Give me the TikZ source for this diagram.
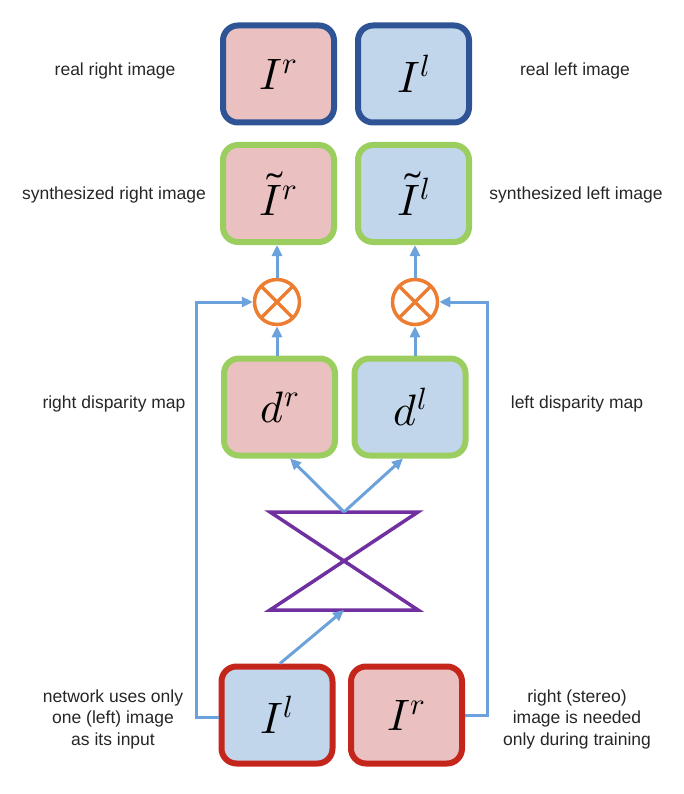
\documentclass[tikz,border=0pt]{standalone}
\usepackage{fontspec}
\usepackage{unicode-math}
\setmainfont{Liberation Sans}
\setmathfont{Latin Modern Math}
\usetikzlibrary{arrows.meta}
\definecolor{pinkfill}{RGB}{234,192,193}
\definecolor{bluefill}{RGB}{194,214,235}
\definecolor{darkblue}{RGB}{47,84,150}
\definecolor{greenb}{RGB}{155,206,94}
\definecolor{redb}{RGB}{196,38,28}
\definecolor{orangec}{RGB}{237,125,49}
\definecolor{lineblue}{RGB}{108,162,220}
\definecolor{purplel}{RGB}{112,48,160}
\tikzset{
  imgbox/.style={rounded corners=15pt, line width=6pt, minimum width=111pt, minimum height=97pt, inner sep=0pt, font=\fontsize{44}{46}\selectfont},
  realbox/.style={imgbox, draw=darkblue},
  synbox/.style={imgbox, draw=greenb},
  inbox/.style={imgbox, draw=redb},
  rfill/.style={fill=pinkfill},
  lfill/.style={fill=bluefill},
  mult/.style={circle, draw=orangec, line width=3.5pt, minimum size=45pt, inner sep=0pt, fill=white,
    path picture={\draw[orangec, line width=3.5pt] (path picture bounding box.north west) -- (path picture bounding box.south east)
      (path picture bounding box.north east) -- (path picture bounding box.south west);}},
  conn/.style={draw=lineblue, line width=3pt},
  arr/.style={conn, -{Triangle[length=11pt,width=10pt]}},
  lbl/.style={font=\fontsize{17.5}{21.5}\selectfont, align=center, text=black!85},
}
\begin{document}
\begin{tikzpicture}[x=1pt,y=-1pt]
\useasboundingbox (0,0) rectangle (684,794);
% top row
\node[realbox, rfill] (Ir) at (278.5,74) {$I^r$};
\node[realbox, lfill] (Il) at (413.5,74) {$I^l$};
% synthesized
\node[synbox, rfill] (sIr) at (278.5,193.5) {$\tilde{I}^r$};
\node[synbox, lfill] (sIl) at (413.5,193.5) {$\tilde{I}^l$};
% disparity
\node[synbox, rfill] (dr) at (279.5,407) {$d^r$};
\node[synbox, lfill] (dl) at (410,407) {$d^l$};
% inputs
\node[inbox, lfill] (inl) at (277,715) {$I^l$};
\node[inbox, rfill] (inr) at (406.5,715) {$I^r$};
% multipliers
\node[mult] (m1) at (277,302) {};
\node[mult] (m2) at (415,302) {};
% bowtie network
\coordinate (bttop) at (344,512);
\coordinate (btbot) at (344,610);
\draw[purplel, line width=3.5pt, line join=miter] (270,512) -- (418,512) -- (270,610) -- (418,610) -- cycle;
% connectors
\draw[arr] (inl.north -| 280,0) -- (btbot);
\draw[arr] (bttop) -- (dr.south -| 290,0);
\draw[arr] (bttop) -- (dl.south -| 403,0);
\draw[arr] (dr.north -| m1) -- (m1);
\draw[arr] (dl.north -| m2) -- (m2);
\draw[arr] (m1) -- (sIr.south -| m1);
\draw[arr] (m2) -- (sIl.south -| m2);
\draw[arr] (inl.west |- 0,717) -- (196,717) -- (196,302) -- (m1);
\draw[arr] (inr.east) -- (487,715) -- (487,302) -- (m2);
% labels
\node[lbl] (t1) at (115,71) {real right image};
\node[lbl] (t2) at (575,71) {real left image};
\node[lbl] (t3) at (114,195) {synthesized right image};
\node[lbl] (t4) at (576,195) {synthesized left image};
\node[lbl] (t5) at (114,404) {right disparity map};
\node[lbl] (t6) at (577,404) {left disparity map};
\node[lbl] (t7) at (113,719) {network uses only\\one (left) image\\as its input};
\node[lbl] (t8) at (577,719) {right (stereo)\\image is needed\\only during training};
\end{tikzpicture}
\end{document}
